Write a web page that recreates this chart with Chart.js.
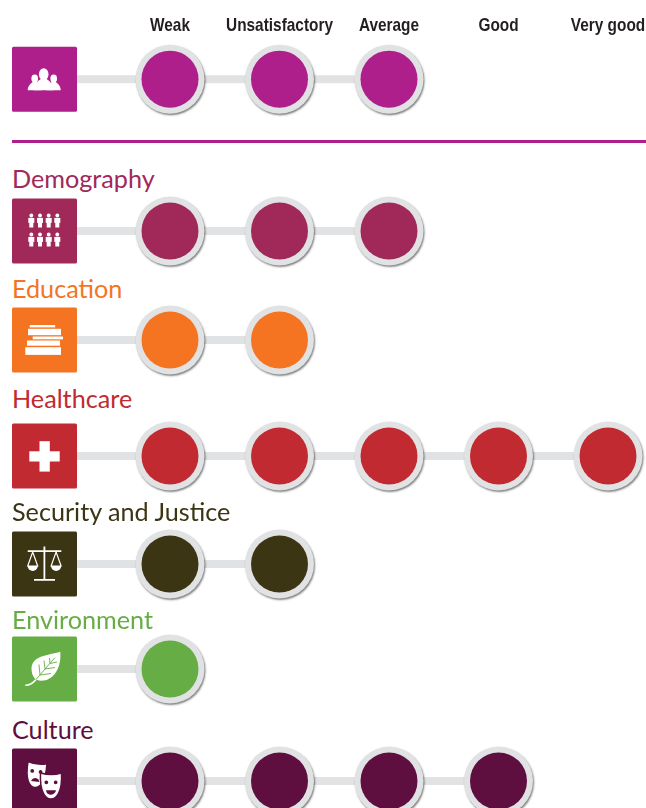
<!DOCTYPE html>
<html>
<head>
<meta charset="utf-8">
<title>Ratings</title>
<script src="https://cdn.jsdelivr.net/npm/chart.js@4"></script>
<style>
    html, body { margin: 0; padding: 0; background: #fff; overflow: hidden; }
    #page { position: relative; width: 646px; height: 808px; overflow: hidden; }
    #page canvas { position: absolute; left: 0; }
    .row-title { position: absolute; left: 12px; font: 25.2px/30px Lato, sans-serif; white-space: nowrap; }
    #divider { position: absolute; left: 12px; right: 0; top: 140px; height: 3px; background: #ae1f8c; }
</style>
</head>
<body>
<div id="page"><div id="divider"></div></div>
<script>
// Data
const levels = ["Weak", "Unsatisfactory", "Average", "Good", "Very good"];
const rowNames = ["", "Demography", "Education", "Healthcare", "Security and Justice", "Environment", "Culture"];
const overallRatings = ["Weak", "Unsatisfactory", "Average"];
const demographyRatings = ["Weak", "Unsatisfactory", "Average"];
const educationRatings = ["Weak", "Unsatisfactory"];
const healthcareRatings = ["Weak", "Unsatisfactory", "Average", "Good", "Very good"];
const securityRatings = ["Weak", "Unsatisfactory"];
const environmentRatings = ["Weak"];
const cultureRatings = ["Weak", "Unsatisfactory", "Average", "Good"];
const rowRatings = [overallRatings, demographyRatings, educationRatings, healthcareRatings, securityRatings, environmentRatings, cultureRatings];

// Styles and layout
const rowColors = ["#ae1f8c", "#a0295a", "#f57422", "#c12a30", "#3c3514", "#67ad45", "#5e0e3f"];
const rowCenters = [79, 231, 340, 456, 564, 668.5, 781];
const titleTops = [0, 163, 273, 383, 496, 604, 714];
const rowHeight = 84;
const headerHeight = 148;
const grey = "#e1e2e3";

// ---------- icons, drawn white on the row colour ----------
function person(c, x, y, s) {
    c.beginPath();
    c.arc(x, y + 2 * s, 1.9 * s, 0, Math.PI * 2);
    c.fill();
    c.fillRect(x - 3 * s, y + 4.4 * s, 6 * s, 5 * s);
    c.fillRect(x - 2 * s, y + 9 * s, 4 * s, 5 * s);
}

function bust(c, x, headY, r, bottom, half) {
    c.beginPath();
    c.ellipse(x, headY, r, r * 1.25, 0, 0, Math.PI * 2);
    c.fill();
    c.beginPath();
    c.moveTo(x - half, bottom);
    c.quadraticCurveTo(x - half, bottom - half * 0.7, x - r * 0.6, headY + r);
    c.lineTo(x + r * 0.6, headY + r);
    c.quadraticCurveTo(x + half, bottom - half * 0.7, x + half, bottom);
    c.closePath();
    c.fill();
}

function mask(c, x, y, w, h, angle, color, smile) {
    c.save();
    c.translate(x, y);
    c.rotate(angle);
    c.beginPath();
    c.moveTo(-w / 2, -h / 2);
    c.quadraticCurveTo(0, -h / 2 + 3, w / 2, -h / 2);
    c.bezierCurveTo(w / 2 + 1, h / 4, w / 4, h / 2, 0, h / 2);
    c.bezierCurveTo(-w / 4, h / 2, -w / 2 - 1, h / 4, -w / 2, -h / 2);
    c.closePath();
    c.fillStyle = "#fff";
    c.fill();
    c.lineWidth = 1.5;
    c.strokeStyle = color;
    c.stroke();
    c.fillStyle = color;
    c.beginPath();
    c.arc(-w / 4.5, -h / 7, 1.9, 0, Math.PI * 2);
    c.arc(w / 4.5, -h / 7, 1.9, 0, Math.PI * 2);
    c.fill();
    c.beginPath();
    if (smile) {
        c.arc(0, h / 7, w / 4.2, 0.1, Math.PI - 0.1);
    } else {
        c.arc(0, h / 3.4, w / 4.5, Math.PI + 0.2, -0.2);
    }
    c.closePath();
    c.fill();
    c.restore();
}

const iconPainters = [
    (c) => {
        bust(c, 22.7, 32, 3.3, 43.5, 7);
        bust(c, 41.7, 32, 3.3, 43.5, 7);
        bust(c, 31.7, 27.5, 4.8, 43.5, 10);
    },
    (c) => {
        [19.3, 28, 36.7, 45.3].forEach(x => {
            person(c, x, 15, 1);
            person(c, x, 34, 1);
        });
    },
    (c) => {
        c.fillRect(17.7, 17.5, 25.5, 2.4);
        c.fillRect(16, 21.3, 33, 6.4);
        c.fillRect(20.7, 29, 30.3, 2.8);
        c.fillRect(15, 33, 33, 5.2);
        c.fillRect(13.3, 39.7, 35.7, 7.7);
    },
    (c) => {
        c.fillRect(27.5, 17.7, 10.3, 30.4);
        c.fillRect(17.3, 27.8, 30.4, 10.2);
    },
    (c) => {
        c.strokeStyle = "#fff";
        c.lineWidth = 1.8;
        c.beginPath();
        c.moveTo(32.4, 15);
        c.lineTo(32.4, 48);
        c.moveTo(22, 48.4);
        c.lineTo(43, 48.4);
        c.moveTo(15.7, 19.7);
        c.lineTo(49.3, 19.7);
        c.stroke();
        c.lineWidth = 1.2;
        [20.7, 44.1].forEach(x => {
            c.beginPath();
            c.moveTo(x - 5, 34.5);
            c.lineTo(x, 20.5);
            c.lineTo(x + 5, 34.5);
            c.closePath();
            c.stroke();
            c.beginPath();
            c.arc(x, 34.5, 5, 0, Math.PI);
            c.closePath();
            c.fill();
        });
    },
    (c, color) => {
        c.beginPath();
        c.moveTo(48.3, 15.3);
        c.bezierCurveTo(36, 19, 20, 19, 19.5, 32);
        c.bezierCurveTo(19.5, 37, 21.5, 41, 24, 43);
        c.bezierCurveTo(35, 48, 50, 38, 48.3, 15.3);
        c.closePath();
        c.fill();
        c.strokeStyle = "#fff";
        c.lineWidth = 1.6;
        c.beginPath();
        c.moveTo(13.3, 48.7);
        c.quadraticCurveTo(19, 49, 24, 43);
        c.stroke();
        c.strokeStyle = color;
        c.lineWidth = 0.9;
        c.beginPath();
        c.moveTo(24, 43);
        c.lineTo(43, 21);
        c.moveTo(28, 38.5);
        c.lineTo(27, 28);
        c.moveTo(33, 32.5);
        c.lineTo(32, 24);
        c.moveTo(38, 27);
        c.lineTo(37.5, 21.5);
        c.moveTo(28, 38.5);
        c.lineTo(39, 37);
        c.moveTo(33, 32.5);
        c.lineTo(43, 31);
        c.moveTo(38, 27);
        c.lineTo(45, 25.5);
        c.stroke();
    },
    (c, color) => {
        mask(c, 24, 26.5, 19, 25, 0.12, color, false);
        mask(c, 39, 37.5, 21, 26, 0, color, true);
    }
];

// stub from the icon to the first level, then the icon square itself
const rowIconPlugin = {
    id: "rowIcon",
    beforeDatasetsDraw(chart, args, opts) {
        const c = chart.ctx;
        const midY = chart.scales.y.getPixelForValue(1);
        c.save();
        c.fillStyle = grey;
        c.fillRect(77, midY - 4, chart.scales.x.getPixelForValue(0) - 77, 8);
        c.translate(12, midY - 32.5);
        c.fillStyle = opts.color;
        c.beginPath();
        c.roundRect(0, 0, 65, 65, 1.5);
        c.fill();
        c.fillStyle = "#fff";
        iconPainters[opts.index](c, opts.color);
        c.restore();
    }
};

// soft shadow under the grey rings only
const ringShadowPlugin = {
    id: "ringShadow",
    beforeDatasetDraw(chart, args) {
        if (args.index !== 1) return;
        const c = chart.ctx;
        c.save();
        c.shadowColor = "rgba(0, 0, 0, 0.5)";
        c.shadowBlur = 2;
        c.shadowOffsetX = 1;
        c.shadowOffsetY = 1.5;
    },
    afterDatasetDraw(chart, args) {
        if (args.index === 1) chart.ctx.restore();
    }
};

// no condensed bold is installed, so squeeze the header tick labels sideways
function condenseText(ctx, factor) {
    const fillText = ctx.fillText.bind(ctx);
    ctx.fillText = (text, x, y) => {
        ctx.save();
        ctx.translate(x, y);
        ctx.scale(factor, 1);
        fillText(text, 0, 0);
        ctx.restore();
    };
}

const page = document.getElementById("page");

rowNames.forEach((name, i) => {
    const isHeader = i === 0;
    const points = rowRatings[i].map(level => ({ x: level, y: 1 }));
    const top = isHeader ? 0 : rowCenters[i] - rowHeight / 2;

    if (name) {
        const title = document.createElement("div");
        title.className = "row-title";
        title.style.top = titleTops[i] + "px";
        title.style.color = rowColors[i];
        title.textContent = name;
        page.appendChild(title);
    }

    const canvas = document.createElement("canvas");
    canvas.style.top = top + "px";
    canvas.style.width = "646px";
    canvas.style.height = (isHeader ? headerHeight : rowHeight) + "px";
    canvas.width = 646;
    canvas.height = isHeader ? headerHeight : rowHeight;
    page.appendChild(canvas);
    if (isHeader) condenseText(canvas.getContext("2d"), 0.81);

    new Chart(canvas, {
        type: "line",
        data: {
            labels: levels,
            datasets: [
                { data: points, showLine: false, clip: false, pointRadius: 28.5, pointBorderWidth: 0, pointBackgroundColor: rowColors[i] },
                { data: points, showLine: false, clip: false, pointRadius: 34.5, pointBorderWidth: 0, pointBackgroundColor: grey },
                { data: points, clip: false, pointRadius: 0, borderColor: grey, borderWidth: 8 }
            ]
        },
        options: {
            responsive: false,
            animation: false,
            events: [],
            layout: { padding: { left: 170, right: 38, top: isHeader ? 14 : 0, bottom: 0 } },
            plugins: {
                legend: { display: false },
                tooltip: { enabled: false },
                rowIcon: { color: rowColors[i], index: i }
            },
            scales: {
                x: {
                    type: "category",
                    position: "top",
                    offset: false,
                    display: isHeader,
                    // the squeezed labels fit, so don't let their full width move the axis
                    afterFit: (scale) => { scale.paddingLeft = 0; scale.paddingRight = 0; },
                    grid: { display: false },
                    border: { display: false },
                    ticks: {
                        autoSkip: false,
                        maxRotation: 0,
                        padding: 0,
                        color: "#231f20",
                        font: { family: "'Liberation Sans'", weight: "bold", size: 19 }
                    }
                },
                y: { display: false, min: 0, max: 2 }
            }
        },
        plugins: [rowIconPlugin, ringShadowPlugin]
    });
});
</script>
</body>
</html>
